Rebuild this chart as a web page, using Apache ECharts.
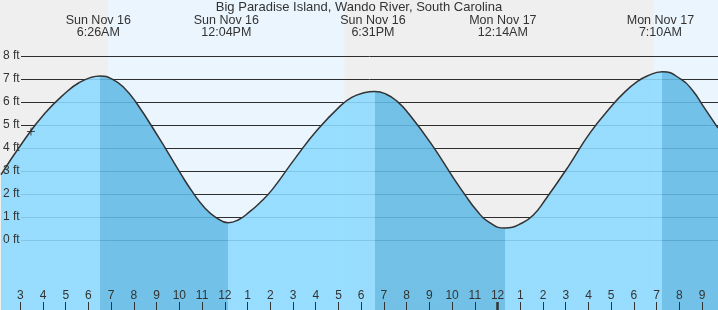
<!DOCTYPE html>
<html>
<head>
<meta charset="utf-8">
<script src="https://cdn.jsdelivr.net/npm/echarts@6/dist/echarts.min.js"></script>
<style>
html,body{margin:0;padding:0;background:#efefef;}
#chart{width:718px;height:310px;}
</style>
</head>
<body>
<div id="chart"></div>
<script>
// ---- data (hours counted from Sun Nov 16 00:00) ----
const titleText = 'Big Paradise Island, Wando River, South Carolina';
// tide heights (hourly, half-hourly near the turns, and at the extremes)
const tideHours = [2.068, 3, 4, 5, 5.5, 6, 6.433, 7, 7.5, 8, 9, 10, 10.5, 11, 11.5, 12.067, 12.5, 13, 13.5, 14, 15, 16, 17, 17.5, 18, 18.517, 19, 19.5, 20, 21, 22, 22.5, 23, 23.5, 24.233, 25, 25.5, 26, 27, 28, 29, 29.5, 30, 30.5, 31.167, 32, 32.5, 33, 33.615];
const tideFeet = [2.84, 4.22, 5.51, 6.48, 6.84, 7.06, 7.13, 6.97, 6.6, 6.0, 4.47, 2.84, 2.08, 1.44, 1.0, 0.75, 0.87, 1.22, 1.66, 2.19, 3.54, 4.8, 5.83, 6.2, 6.39, 6.46, 6.35, 6.03, 5.5, 4.18, 2.66, 1.94, 1.28, 0.8, 0.52, 0.74, 1.1, 1.73, 3.15, 4.68, 5.9, 6.42, 6.84, 7.13, 7.32, 6.98, 6.5, 5.77, 4.87];
const extremeHours = [6.433, 12.067, 18.517, 24.233, 31.167];
const extremeKind = ['high', 'low', 'high', 'low', 'high'];
const extremeDays = ['Sun Nov 16', 'Sun Nov 16', 'Sun Nov 16', 'Mon Nov 17', 'Mon Nov 17'];
const extremeClock = ['6:26AM', '12:04PM', '6:31PM', '12:14AM', '7:10AM'];
const daylightStart = [6.853, 30.873];
const daylightEnd = [17.266, 41];
const tickHours = [3, 4, 5, 6, 7, 8, 9, 10, 11, 12, 13, 14, 15, 16, 17, 18, 19, 20, 21, 22, 23, 24, 25, 26, 27, 28, 29, 30, 31, 32, 33];
const midnightHours = [24];
const depthTicks = [0, 1, 2, 3, 4, 5, 6, 7, 8];
const nowHour = [3.386];
const nowFeet = [4.72];

// ---- axis ranges / styles ----
const X_MIN = 2.152, X_MAX = 33.699;       // hour scale (ticks, labels)
const XS_MIN = 2.068, XS_MAX = 33.615;     // curve scale (drawn ~2px right of the hour scale, as in the source)
const Y_MIN = -3.043, Y_MAX = 10.435;
const FONT = "'Liberation Sans', Arial, sans-serif";
const TXT = '#333333';
const NIGHT_BG = '#efefef';
const DAY_BG = '#ebf5fe';
const RISE = '#8cdaff';
const FALL = '#62bae5';

const tideData = tideHours.map((h, i) => [h, tideFeet[i]]);
const dayData = daylightStart.map((s, i) => [s, daylightEnd[i], 0]);
const nowData = nowHour.map((h, i) => [h, nowFeet[i]]);

const pieces = [];
pieces.push({ lte: extremeHours[0], color: extremeKind[0] === 'high' ? RISE : FALL });
for (let i = 0; i < extremeHours.length; i++) {
  const p = { gt: extremeHours[i], color: extremeKind[i] === 'high' ? FALL : RISE };
  if (i + 1 < extremeHours.length) p.lte = extremeHours[i + 1];
  pieces.push(p);
}

function hour12(v) {
  let h = Math.round(v) % 12;
  return String(h === 0 ? 12 : h);
}
function extremeLabel(v) {
  for (let i = 0; i < extremeHours.length; i++) {
    if (Math.abs(extremeHours[i] - v) < 1e-6) return extremeDays[i] + '\n' + extremeClock[i];
  }
  return '';
}

const chart = echarts.init(document.getElementById('chart'), null, { renderer: 'canvas' });
chart.setOption({
  animation: false,
  backgroundColor: NIGHT_BG,
  title: {
    text: titleText, left: 'center', top: 0, padding: 0,
    textStyle: { fontFamily: FONT, fontSize: 13, fontWeight: 'normal', color: TXT, lineHeight: 14 }
  },
  grid: [
    { left: 0, right: 0, top: 0, bottom: 0, containLabel: false },
    { left: 21, right: 0, top: 0, bottom: 0, containLabel: false }
  ],
  xAxis: [
    { // 0: hour ticks + labels
      type: 'value', gridIndex: 0, min: X_MIN, max: X_MAX, position: 'bottom', z: 10,
      axisLine: { show: false, onZero: false }, splitLine: { show: false },
      axisTick: { show: true, inside: true, length: 8, customValues: tickHours, lineStyle: { color: TXT, width: 1 } },
      axisLabel: { show: true, inside: true, margin: 8, customValues: tickHours, formatter: hour12,
        fontFamily: FONT, fontSize: 12, color: TXT }
    },
    { // 1: midnight tick
      type: 'value', gridIndex: 0, min: X_MIN, max: X_MAX, position: 'bottom', z: 11,
      axisLine: { show: false, onZero: false }, splitLine: { show: false },
      axisTick: { show: true, inside: true, length: 8, customValues: midnightHours, lineStyle: { color: TXT, width: 2.5 } },
      axisLabel: { show: false }
    },
    { // 2: extreme labels on top
      type: 'value', gridIndex: 0, min: X_MIN, max: X_MAX, position: 'top', z: 10,
      axisLine: { show: false, onZero: false }, splitLine: { show: false }, axisTick: { show: false },
      axisLabel: { show: true, inside: true, margin: 15, customValues: extremeHours, formatter: extremeLabel,
        fontFamily: FONT, fontSize: 12.5, lineHeight: 12, color: TXT, align: 'center' }
    },
    { // 3: curve scale
      type: 'value', gridIndex: 0, min: XS_MIN, max: XS_MAX, show: false,
      splitLine: { show: false }, axisLine: { onZero: false }
    },
    { type: 'value', gridIndex: 1, min: X_MIN, max: X_MAX, show: false, splitLine: { show: false }, axisLine: { onZero: false } }
  ],
  yAxis: [
    { // labels
      type: 'value', gridIndex: 0, min: Y_MIN, max: Y_MAX, position: 'left', z: 10,
      axisLine: { show: false, onZero: false }, splitLine: { show: false },
      axisTick: { show: false, customValues: depthTicks },
      axisLabel: { show: true, inside: true, margin: 2, customValues: depthTicks,
        formatter: v => v + ' ft', fontFamily: FONT, fontSize: 12, color: TXT }
    },
    { // gridlines
      type: 'value', gridIndex: 1, min: Y_MIN, max: Y_MAX, z: 1,
      axisLine: { show: false, onZero: false }, axisLabel: { show: false },
      axisTick: { show: false, customValues: depthTicks },
      splitLine: { show: true, lineStyle: { color: '#2e2e2e', width: 1 } }
    }
  ],
  visualMap: [{
    type: 'piecewise', show: false, dimension: 0, seriesIndex: 1,
    pieces: pieces, outOfRange: { color: RISE }
  }],
  series: [
    {
      type: 'custom', name: 'daylight', xAxisIndex: 0, yAxisIndex: 0, z: 0, silent: true,
      encode: { x: [0, 1], y: 2 },
      data: dayData,
      renderItem: function (params, api) {
        const cs = params.coordSys;
        const s = api.coord([api.value(0), 0]);
        const e = api.coord([api.value(1), 0]);
        const shape = echarts.graphic.clipRectByRect(
          { x: s[0], y: cs.y, width: e[0] - s[0], height: cs.height },
          { x: cs.x, y: cs.y, width: cs.width, height: cs.height });
        return shape && { type: 'rect', shape: shape, style: { fill: DAY_BG } };
      }
    },
    {
      type: 'line', name: 'fill', xAxisIndex: 3, yAxisIndex: 0, z: 2, silent: true,
      data: tideData, smooth: 0.5, symbol: 'none',
      lineStyle: { width: 0, opacity: 0 },
      areaStyle: { origin: 'start', opacity: 0.88 }
    },
    {
      type: 'line', name: 'tide', xAxisIndex: 3, yAxisIndex: 0, z: 3, silent: true,
      data: tideData, smooth: 0.5, symbol: 'none',
      lineStyle: { color: '#333333', width: 1.5 }
    },
    {
      type: 'scatter', name: 'now', xAxisIndex: 3, yAxisIndex: 0, z: 4, silent: true,
      data: nowData,
      symbol: 'path://M0,3.5h8v1h-8z M3.5,0h1v8h-1z', symbolSize: 8,
      itemStyle: { color: '#222222' }
    }
  ]
});
</script>
</body>
</html>
